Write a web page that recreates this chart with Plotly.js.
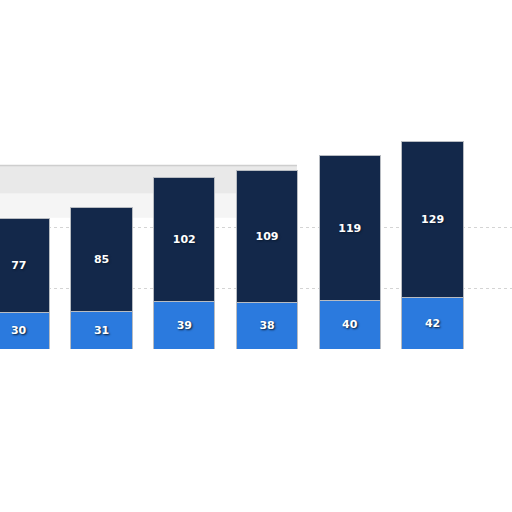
<!DOCTYPE html>
<html>
<head>
<meta charset="utf-8">
<script src="https://cdn.plot.ly/plotly-3.0.1.min.js"></script>
<style>
  html, body { margin: 0; padding: 0; background: #fff; }
  #chart { width: 512px; height: 512px; }
</style>
</head>
<body>
<div id="chart"></div>
<script>
// categories are not labelled in the picture, just positions
var categories = ['c1', 'c2', 'c3', 'c4', 'c5', 'c6'];
var lowerValues = [30, 31, 39, 38, 40, 42];
var upperValues = [77, 85, 102, 109, 119, 129];
var gridValues = [50, 100];

var labelFont = {
    family: 'DejaVu Sans, Arial, sans-serif',
    size: 11,
    color: '#ffffff',
    weight: 'bold',
    shadow: '1px 1px 2px #0a1a30'
};

var data = [{
    type: 'bar',
    x: categories,
    y: lowerValues,
    text: lowerValues.map(String),
    textposition: 'inside',
    insidetextanchor: 'middle',
    textfont: labelFont,
    marker: { color: '#2b7ade', line: { color: '#b8bcc2', width: 1 } },
    hoverinfo: 'none'
}, {
    type: 'bar',
    x: categories,
    y: upperValues,
    text: upperValues.map(String),
    textposition: 'inside',
    insidetextanchor: 'middle',
    textfont: labelFont,
    marker: { color: '#13284a', line: { color: '#b8bcc2', width: 1 } },
    hoverinfo: 'none'
}];

var layout = {
    barmode: 'stack',
    bargap: 0.26,
    showlegend: false,
    plot_bgcolor: 'rgba(0, 0, 0, 0)',
    paper_bgcolor: '#ffffff',
    margin: { l: 0, r: 0, t: 0, b: 163 },
    width: 512,
    height: 512,
    xaxis: {
        range: [-0.227, 5.96],
        showticklabels: false,
        showgrid: false,
        zeroline: false,
        showline: false,
        ticks: ''
    },
    yaxis: {
        range: [0, 287],
        tickvals: gridValues,
        showticklabels: false,
        showgrid: true,
        gridcolor: '#d4d4d4',
        griddash: 'dot',
        zeroline: false,
        showline: false,
        ticks: ''
    },
    shapes: [{
        // soft grey haze behind the left bars
        type: 'rect',
        layer: 'below',
        xref: 'paper', yref: 'y',
        x0: 0, x1: 0.58, y0: 108, y1: 151,
        fillcolor: 'rgba(215, 215, 215, 0.25)',
        line: { width: 0 }
    }, {
        type: 'rect',
        layer: 'below',
        xref: 'paper', yref: 'y',
        x0: 0, x1: 0.58, y0: 128, y1: 151,
        fillcolor: 'rgba(205, 205, 205, 0.3)',
        line: { width: 0 }
    }, {
        type: 'line',
        layer: 'below',
        xref: 'paper', yref: 'y',
        x0: 0, x1: 0.58, y0: 151, y1: 151,
        line: { color: 'rgba(190, 190, 190, 0.7)', width: 1.5 }
    }]
};

document.addEventListener('DOMContentLoaded', function() {
    Plotly.newPlot('chart', data, layout, { displayModeBar: false, staticPlot: true });
});
</script>
</body>
</html>
